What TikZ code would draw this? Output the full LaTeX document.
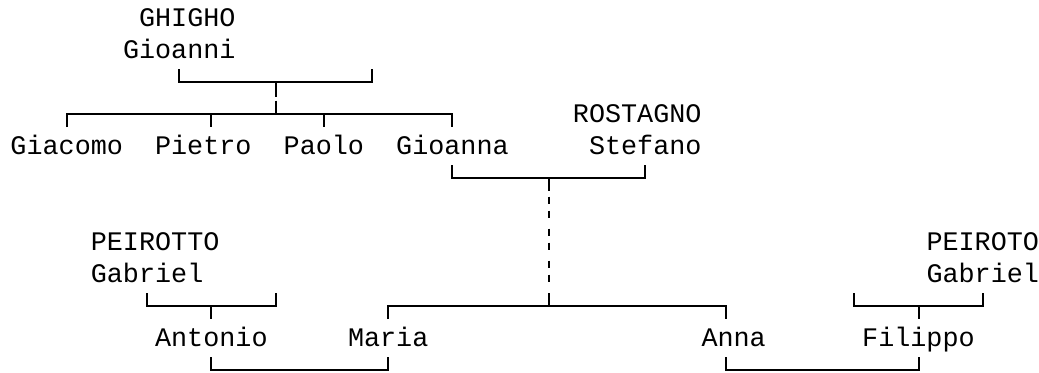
\documentclass[tikz,border=0pt]{standalone}
\usepackage{fontspec}
\newfontfamily\famtreemono{Liberation Mono}
\newcommand\treefont{\famtreemono\fontsize{13.39pt}{16pt}\selectfont}
\tikzset{
  person/.style={anchor=base west, inner sep=0pt, outer sep=0pt, font=\treefont},
  link/.style={line width=1pt, line join=miter, line cap=butt},
}
\begin{document}
\begin{tikzpicture}[x=0.5pt, y=-0.5pt]
\useasboundingbox (0,0) rectangle (1039,372);
% ---- people ----
\node[person] (ghigho)   at (139.06,26.5)  {GHIGHO};
\node[person] (gioanni)  at (123.0,58.5)   {Gioanni};
\node[person] (giacomo)  at (10.5,154.5)   {Giacomo};
\node[person] (pietro)   at (155.1,154.5)  {Pietro};
\node[person] (paolo)    at (283.7,154.5)  {Paolo};
\node[person] (gioanna)  at (396.2,154.5)  {Gioanna};
\node[person] (rostagno) at (572.95,122.5) {ROSTAGNO};
\node[person] (stefano)  at (589.0,154.5)  {Stefano};
\node[person] (peirotto) at (90.85,250.5)  {PEIROTTO};
\node[person] (gabriel)  at (90.85,282.5)  {Gabriel};
\node[person] (antonio)  at (155.1,346.5)  {Antonio};
\node[person] (maria)    at (348.0,346.5)  {Maria};
\node[person] (anna)     at (701.5,346.5)  {Anna};
\node[person] (filippo)  at (862.2,346.5)  {Filippo};
\node[person] (peiroto)  at (926.5,250.5)  {PEIROTO};
\node[person] (gabrielb) at (926.5,282.5)  {Gabriel};
% ---- junction points ----
\coordinate (gA) at (179.2,69);  \coordinate (gB) at (372.1,69);
\coordinate (gM) at (275.7,82);  \coordinate (sM) at (275.7,114);
\coordinate (s1) at (66.75,127); \coordinate (s2) at (211.4,127);
\coordinate (s3) at (323.9,127); \coordinate (s4) at (452.4,127);
\coordinate (rA) at (452.4,165); \coordinate (rB) at (645.3,165);
\coordinate (rM) at (548.8,178);
\coordinate (d1) at (548.8,191); \coordinate (d2) at (548.8,196.7);
\coordinate (d3) at (548.8,282.2); \coordinate (d4) at (548.8,293.3);
\coordinate (cM) at (548.8,306);
\coordinate (c1) at (388.1,319); \coordinate (c2) at (725.6,319);
\coordinate (pA) at (147.1,293); \coordinate (pB) at (275.7,293);
\coordinate (pM) at (211.4,306); \coordinate (pD) at (211.4,319);
\coordinate (qA) at (854.2,293); \coordinate (qB) at (982.7,293);
\coordinate (qM) at (918.5,306); \coordinate (qD) at (918.5,319);
\coordinate (m1) at (211.4,357); \coordinate (m2) at (388.1,357);
\coordinate (n1) at (725.6,357); \coordinate (n2) at (918.5,357);
% ---- connectors ----
\draw[link] (gA) -- (gA |- gM) -- (gB |- gM) -- (gB);
\draw[link, dash pattern=on 7.25pt off 2pt on 10pt] (gM) -- (sM);
\draw[link] (s1) -- (s1 |- sM) -- (s4 |- sM) -- (s4);
\draw[link] (s2 |- sM) -- (s2);
\draw[link] (s3 |- sM) -- (s3);
\draw[link] (rA) -- (rA |- rM) -- (rB |- rM) -- (rB);
\draw[link] (rM) -- (d1);
\draw[link, dash pattern=on 3.75pt off 3.25pt on 3.75pt off 5.25pt] (d2) -- (d3);
\draw[link] (d4) -- (cM);
\draw[link] (c1) -- (c1 |- cM) -- (c2 |- cM) -- (c2);
\draw[link] (pA) -- (pA |- pM) -- (pB |- pM) -- (pB);
\draw[link] (pM) -- (pD);
\draw[link] (qA) -- (qA |- qM) -- (qB |- qM) -- (qB);
\draw[link] (qM) -- (qD);
\draw[link] (m1) -- (211.4,370) -- (388.1,370) -- (m2);
\draw[link] (n1) -- (725.6,370) -- (918.5,370) -- (n2);
\end{tikzpicture}
\end{document}
